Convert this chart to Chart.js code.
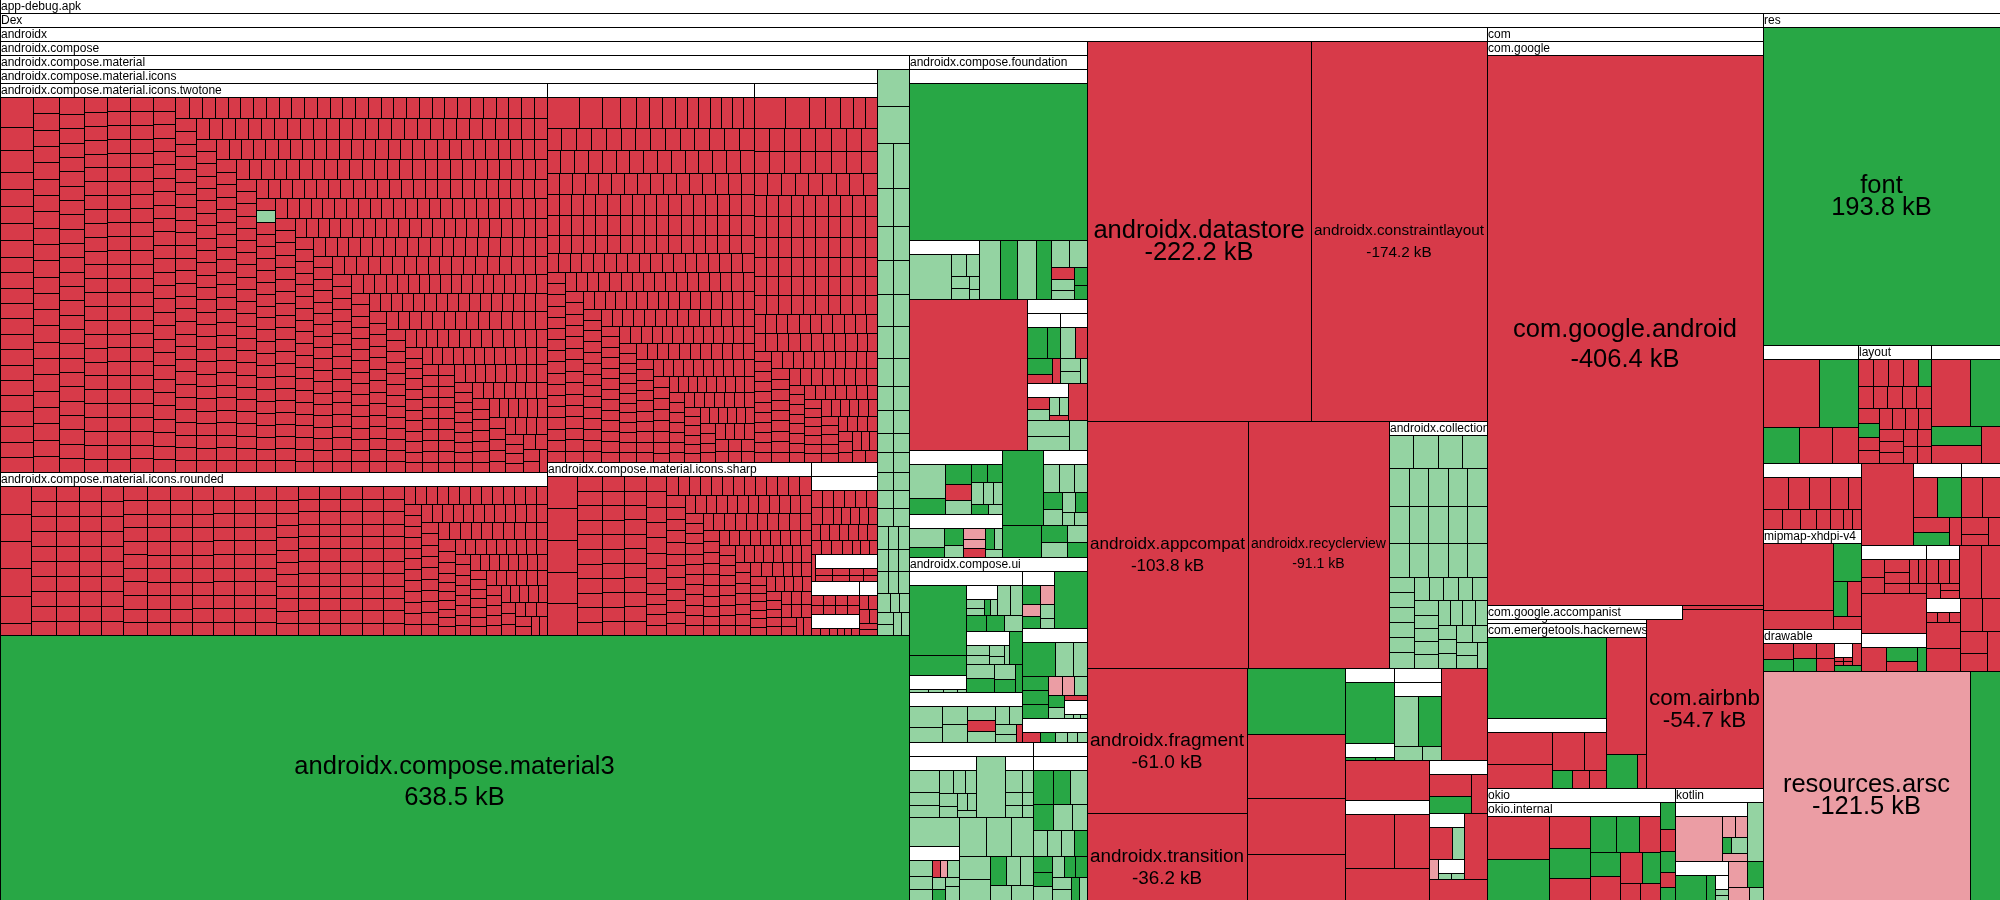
<!DOCTYPE html>
<html>
<head>
<meta charset="utf-8">
<title>app-debug.apk size diff treemap</title>
<style>
  html, body { margin: 0; padding: 0; background: #ffffff; overflow: hidden; }
  #wrap { width: 2000px; height: 900px; }
</style>
<script src="https://cdn.jsdelivr.net/npm/chart.js"></script>
</head>
<body>
<div id="wrap"><canvas id="chart" width="2000" height="900"></canvas></div>
<script>
// ====================== DATA ======================
// Sizes in kB. Status letter: r = removed (red), a = added (green),
// i = grown (light green), d = shrunk (pink), w = unchanged (white).
// "N*xV" means N consecutive entries of status x and size V.

// Labelled packages (signed kB as printed on the chart)
const labelNames  = ['androidx.compose.material3', 'androidx.datastore', 'androidx.constraintlayout',
                     'androidx.appcompat', 'androidx.recyclerview', 'androidx.fragment', 'androidx.transition',
                     'com.google.android', 'com.airbnb', 'font', 'resources.arsc'];
const labelValues = [638.5, -222.2, -174.2, -103.8, -91.1, -61.0, -36.2, -406.4, -54.7, 193.8, -121.5];
const labelStatus = ['a', 'r', 'r', 'r', 'r', 'r', 'r', 'r', 'r', 'a', 'd'];

// androidx.compose.material.icons.*
const twotoneIcons  = ['r2.8','r2.2','r2.05','5*r1.6','14*r1.45','24*r1.23','26*r1.03','27*r0.95','27*r0.92',
                       '27*r0.905','28*r0.87','28*r0.79','26*r0.77','28*r0.76','100*r0.72',
                       '54*r0.68','i0.68','65*r0.68','120*r0.63','100*r0.58','100*r0.514'];
const roundedIcons  = ['5*r2.6','10*r1.13','10*r1.05','10*r1.02','10*r1.0','10*r0.97','10*r0.95','10*r0.92',
                       '10*r0.89','40*r0.87','70*r0.8','60*r0.58','65*r0.46'];
const outlinedIcons = ['r2.87','r2.15','r1.61','r1.43','3*r1.17','r1.08','6*r0.99','14*r0.96','15*r0.9','16*r0.8',
                       '17*r0.72','17*r0.7','17*r0.66','17*r0.62','50*r0.6','60*r0.55','60*r0.5','50*r0.43'];
const filledIcons   = ['r2.78','r2.15','r1.43','r1.35','r1.17','2*r1.08','8*r1.03','8*r0.99','9*r0.84','10*r0.76',
                       '10*r0.74','10*r0.72','10*r0.7','10*r0.68','10*r0.66','10*r0.62','10*r0.6','40*r0.52','45*r0.44'];
const sharpIcons    = ['5*r2.95','10*r1.08','10*r0.98','20*r0.96','30*r0.65','40*r0.55','40*r0.48','30*r0.4'];
const extraIcons    = ['8*r0.62','16*r0.5','4*r0.4'];
const extraIconsA   = ['4*r0.75','4*r0.6'];
const extraIconsB   = ['4*r0.7','4*r0.65'];
const extraIconsC   = ['2*r0.65','4*r0.5'];
const extraIconsD   = ['3*r0.6','3*r0.5'];
const materialCells = ['2*i3.25','2*i1.95','2*i1.65','2*i1.5','2*i1.5','2*i1.4','2*i1.4','2*i1.2','2*i1.05',
                       '2*i1.0','4*i0.85','6*i0.8','10*i0.65','6*i0.5'];

// androidx.compose.foundation
const foundBandA  = ['i7.1','i1.2','i1.1','2*i0.76','i0.5','i0.42'];
const foundBandB  = ['i1.4','i1.35','r0.8','i0.7','i0.6','a0.6','a0.5'];
const foundSideA  = ['a2.5','a1.6','a1.5','r0.9','r0.8'];
const foundSideB  = ['i1.8','r1.4','i1.0','i0.9','i0.6'];
const foundSideC  = ['r1.4','i1.2','i0.9','i0.8','r0.5'];
const foundSide   = ['r2.2','i2.1','i1.9','i1.6'];
const foundTopMix = ['i3.5','a2.9','i3.1','a2.6'];
const foundBig    = ['a78.8','r50.3'];
const foundLowA   = ['i4.3','a2.0','a1.8','r1.45','i1.3','a0.95','a0.95','i0.9','i0.8','i0.7','a0.6','i0.5'];
const foundLowB   = ['i2.6','a1.5','a1.3','i1.0','d1.0','d0.8','r0.8','a0.7','i0.7','i0.6'];
const foundLowC   = ['i1.5','i1.3','i1.2','a1.1','i1.0','i0.9','a0.8','i0.5','i0.5'];
const foundLoose  = ['a8.3','a3.4','a1.3','i1.1','i0.9','a0.8'];

// androidx.compose.ui
const uiA1 = ['i1.0','i0.8','i0.7','i0.5'];
const uiA2 = ['i0.9','i0.7','a0.6','i0.6'];
const uiA3 = ['i1.3','i1.1','i0.9','i0.7','i0.5'];
const uiA  = ['a12.5','a3.5','i1.2','i1.1','a1.0','a0.9','i0.9','a1.3','i1.2','a1.2','i1.0','a0.8','a0.6'];
const uiB  = ['i2.6','i1.9','i1.8','i1.7','i1.5','r1.2','i1.2','i1.0','i0.9','i0.8','i0.6','r0.4'];
const uiC1 = ['i2.6','i1.5','i1.4','i1.3','i1.1','i1.0','i0.9','i0.8','i0.7','i0.6','i0.5'];
const uiC2 = ['i1.4','i1.0','i0.9','i0.8','i0.6','i0.5'];
const uiC3 = ['i1.5','i1.2','i1.0','r0.6','d0.5','i0.8','i0.7','a0.6','i0.5','i0.8'];
const uiC  = ['i3.2','i3.0','i2.6','i2.2','i1.9','a1.5','i1.2','i1.2','i1.0','i1.0'];
const uiD  = ['a1.3','d1.0','d0.8','a0.8','i0.7','i0.5'];
const uiE  = ['a3.7','i2.0','i1.5','a1.2','a1.2','a1.2','d0.9','d0.8','i0.8','a0.6','i0.6','r0.4'];
const uiE1 = ['i0.5','i0.4','i0.4'];
const uiF  = ['r1.2','a1.0','i0.8','i0.7','i0.6'];
const uiG  = ['a2.2','a2.0','i1.9','a1.7','i1.6','i1.3','i1.2','i1.2','i1.1','a1.1','a1.0','a0.9','i0.9',
              'i0.8','a0.8','a0.8','i0.8','i0.7','a0.6','i0.6'];

// other androidx packages
const collectionCells = ['4*i2.28','5*i2.05','5*i2.0','5*i1.83','6*i1.06','6*i0.95','8*i0.85','8*i0.72'];
const androidxSmall   = ['a17.1','r16.4','r14.3','r11.8'];
const androidxG1      = ['a9.3'];
const androidxG1a     = ['a1.6','a1.0'];
const androidxG2      = ['i4.4','a4.3','i1.5','i1.0'];
const androidxG3      = ['r8.7','r6.3'];
const androidxG4      = ['r3.2','a2.6','r2.2'];
const androidxG5      = ['r2.4','i1.2','d0.6'];
const androidxG5a     = ['i0.9','i0.9'];

// com.*
const accompanistCells = ['r1.4','r1.0'];
const hackernewsCells  = ['a29.8','r14.5','a3.2','r1.0'];
const hackernewsUi     = ['r8.1','r6.2','r4.65','r3.3','a1.4','r1.25','r1.2'];

// okio / kotlin
const okioInternal = ['r8.95','a8.74','r4.48','a4.34','r3.08','a3.13','a2.86','r2.55','a2.46','r2.43','r2.33',
                      'a1.9','r1.2','r1.16'];
const okioCells    = ['a1.19','r0.97','a0.97','r0.66','a0.57'];
const kotlinA      = ['d8.1','d1.0','d0.9','a0.5','i1.0','d0.8'];
const kotlinB      = ['a3.5','a1.0'];
const kotlinB1     = ['i0.8','i0.7'];
const kotlinCells  = ['i2.75','d1.5','a1.2','d0.8','i0.5'];

// res
const resA        = ['r11.0','a7.6','a3.8','r3.5','r2.7'];
const resLayout   = ['4*r1.15','a1.0','6*r0.95','a0.85','8*r0.8','4*r0.7','r0.65'];
const resC        = ['r7.5','a5.8','a2.9','r2.5','r2.05'];
const resXCells   = ['r2.2','r1.9','r1.8','r1.6','r1.1','r1.1','r1.0','r0.9','r0.8','r0.7','r0.5','r0.5'];
const resMipmap   = ['r15.0','r4.35','a3.3','a1.53','r1.49','r1.17'];
const resDrawable = ['r2.0','a1.5','r1.4','a1.2','r1.1','r1.0','r0.8','a0.7'];
const resDrawSub  = ['r0.4','r0.4','r0.4','r0.4'];
const resJ        = ['r3.0','a3.0','r1.7','a1.5','r1.0'];
const resK        = ['r2.6','r2.3','r1.4','r1.0','r1.0'];
const resL        = ['r1.5','r1.3','r1.2','r1.0','r0.9','r0.8','r0.7','r0.6'];
const resL2       = ['r2.5','a1.8','r1.2','a0.9'];
const resM        = ['r1.0','r0.9','r0.8','r0.7','r0.5','r0.5'];
const resN        = ['r0.7','r0.7','r0.7'];
const resLoose    = ['r2.9','r2.6','r2.2','r2.0','r1.9','r1.6','r1.5','r1.3','r1.3'];
const resTail     = ['a17.9'];

// ====================== TREE ======================
const COLORS = { r: '#d73a49', a: '#28a745', i: '#94d3a2', d: '#eb9da4', w: '#ffffff' };
const HEADER = 14;
const FONT = '"Liberation Sans", Arial, Helvetica, sans-serif';
const LABEL_MAX = 25.5;

function expand(list) {
  const out = [];
  for (const t of list) {
    if (typeof t === 'string') {
      const m = t.match(/^(?:(\d+)\*)?([raidw])(\d*\.?\d+)$/);
      const cnt = m[1] ? parseInt(m[1], 10) : 1;
      for (let k = 0; k < cnt; k++) out.push({ v: parseFloat(m[3]), s: m[2] });
    } else out.push(t);
  }
  return out;
}
function G(name, kids) { return { name: name, kids: expand(kids) }; }   // name null => no header
function L(name) {
  const i = labelNames.indexOf(name);
  return { name: name, kb: labelValues[i], v: Math.abs(labelValues[i]), s: labelStatus[i] };
}

const ICONS = G('androidx.compose.material.icons', [
  G('androidx.compose.material.icons.twotone', twotoneIcons),
  G('androidx.compose.material.icons.rounded', roundedIcons),
  G('', outlinedIcons),
  G('', filledIcons),
  G('androidx.compose.material.icons.sharp', sharpIcons),
  G('', [G('', [...extraIcons, G('', extraIconsA), G('', extraIconsB), G('', extraIconsC), G('', extraIconsD)])])
]);
const MATERIAL = G('androidx.compose.material', [ICONS, ...materialCells]);
const FOUNDATION = G('androidx.compose.foundation', [
  G('', [foundBig[0], G('', foundBandA), ...foundTopMix, G(null, foundBandB), foundBig[1],
         G('', [G('', foundSideA), G('', foundSideB), G('', foundSideC), ...foundSide])]),
  G('', foundLowA), G('', foundLowB), foundLoose[0], G('', foundLowC), ...foundLoose.slice(1)
]);
const UI = G('androidx.compose.ui', [
  G(null, [G('', [uiA[0], uiA[1], G('', uiA1), G('', uiA2), ...uiA.slice(2, 7), G('', uiA3), ...uiA.slice(7)]),
           G('', uiB)]),
  G(null, [G('', uiD), 'a5.0', G('', [...uiE, G('', uiE1)]), G('', uiF)]),
  G('', [G('', uiC1), 'i5.4', G('', uiC2), 'i4.4', G('', uiC3), ...uiC]),
  G('', [G('', uiG)])
]);
const COMPOSE = G('androidx.compose', [MATERIAL, L('androidx.compose.material3'), FOUNDATION, UI]);
const ANDROIDX = G('androidx', [
  COMPOSE, L('androidx.datastore'), L('androidx.constraintlayout'), L('androidx.appcompat'),
  L('androidx.recyclerview'), G('androidx.collection', collectionCells), L('androidx.fragment'),
  L('androidx.transition'), ...androidxSmall,
  G('', [...androidxG1, G('', androidxG1a)]), G('', [G('', androidxG2)]), 'r11.2',
  'r8.7', G('', androidxG3), 'r6.9', G('', androidxG4), G('', [...androidxG5, G('', androidxG5a)]), 'r4.0', 'r3.1'
]);
const COM = G('com', [
  G('com.google', [L('com.google.android'), G('com.google.accompanist', accompanistCells), 'r1.0']),
  G('com.emergetools', [G('com.emergetools.hackernews',
      [hackernewsCells[0], G('', hackernewsUi), ...hackernewsCells.slice(1)])]),
  L('com.airbnb')
]);
const OKIO = G('okio', [G('okio.internal', okioInternal), ...okioCells]);
const KOTLIN = G('kotlin', [G('', kotlinA), kotlinCells[0], G('', [...kotlinB, G('', kotlinB1)]), ...kotlinCells.slice(1)]);
const DEX = G('Dex', [ANDROIDX, COM, OKIO, KOTLIN]);
const RES = G('res', [
  L('font'), G('', resA), G('layout', resLayout), G('', resC),
  G('', [...resXCells, G('mipmap-xhdpi-v4', resMipmap), G('drawable', [...resDrawable.slice(0, 6), G('', resDrawSub), ...resDrawable.slice(6)])]),
  G(null, ['r11.1', G('', resJ), G('', resK), G('', resL), 'r6.8', G('', resL2), G('', resM),
           resLoose[0], resLoose[1], G('', resN), ...resLoose.slice(2)]),
  L('resources.arsc'), ...resTail
]);
const ROOT = G('app-debug.apk', [DEX, RES]);

// ====================== LAYOUT (squarified, phi ratio) ======================
function sumValues(n) { if (n.kids) n.v = n.kids.reduce((s, k) => s + sumValues(k), 0); return n.v; }
const PHI = (1 + Math.sqrt(5)) / 2;
function squarify(nodes, x0, y0, x1, y1) {
  let value = nodes.reduce((s, n) => s + n.v, 0);
  let i0 = 0; const n = nodes.length;
  while (i0 < n) {
    const dx = x1 - x0, dy = y1 - y0;
    let sumValue = nodes[i0].v, minValue = sumValue, maxValue = sumValue, i1 = i0 + 1;
    const alpha = Math.max(dy / dx, dx / dy) / (value * PHI);
    let beta = sumValue * sumValue * alpha;
    let minRatio = Math.max(maxValue / beta, beta / minValue);
    for (; i1 < n; ++i1) {
      const nv = nodes[i1].v;
      sumValue += nv;
      if (nv < minValue) minValue = nv;
      if (nv > maxValue) maxValue = nv;
      beta = sumValue * sumValue * alpha;
      const newRatio = Math.max(maxValue / beta, beta / minValue);
      if (newRatio > minRatio) { sumValue -= nv; break; }
      minRatio = newRatio;
    }
    const row = nodes.slice(i0, i1);
    if (dx < dy) {
      const yk = value ? y0 + dy * sumValue / value : y1;
      let x = x0;
      for (const r of row) { const w = dx * r.v / sumValue; r.x0 = x; r.x1 = x + w; r.y0 = y0; r.y1 = yk; x += w; }
      y0 = yk;
    } else {
      const xk = value ? x0 + dx * sumValue / value : x1;
      let y = y0;
      for (const r of row) { const h = dy * r.v / sumValue; r.y0 = y; r.y1 = y + h; r.x0 = x0; r.x1 = xk; y += h; }
      x0 = xk;
    }
    value -= sumValue; i0 = i1;
  }
}
function layout(nd, x0, y0, x1, y1, depth) {
  nd.x0 = x0; nd.y0 = y0; nd.x1 = x1; nd.y1 = y1; nd.depth = depth;
  if (!nd.kids) return;
  const top = nd.name === null ? y0 : y0 + HEADER;
  if (y1 - top < 1) { nd.hidden = true; return; }
  squarify(nd.kids, x0, top, x1, y1);
  for (const k of nd.kids) layout(k, k.x0, k.y0, k.x1, k.y1, depth + 1);
}
sumValues(ROOT);
layout(ROOT, 0, -1, 2000, 900, 0);

// ====================== DRAWING through Chart.js scales ======================
function fmtKB(kb) { return (kb < 0 ? '-' : '') + Math.abs(kb).toFixed(1) + ' kB'; }

function drawLabel(ctx, nd, px0, py0, px1, py1) {
  const w = px1 - px0, h = py1 - py0;
  const val = fmtKB(nd.kb);
  ctx.font = LABEL_MAX + 'px ' + FONT;
  const tw = Math.max(ctx.measureText(nd.name).width, ctx.measureText(val).width);
  const fs = Math.min(LABEL_MAX, LABEL_MAX * (w - 6) / tw);
  if (fs < 9 || h < fs * 2.4) return;
  const gap = w > 250 ? fs * 1.2 : Math.min(22, fs * 1.4);
  const cx = (px0 + px1) / 2, cy = (py0 + py1) / 2;
  ctx.save();
  ctx.beginPath(); ctx.rect(px0, py0, w, h); ctx.clip();
  ctx.fillStyle = '#000000';
  ctx.font = fs.toFixed(2) + 'px ' + FONT;
  ctx.textAlign = 'center'; ctx.textBaseline = 'alphabetic';
  const nameY = cy + 0.27 * fs;
  ctx.fillText(nd.name, cx, nameY);
  ctx.fillText(val, cx, nameY + gap);
  ctx.restore();
}

const treemapCells = {
  id: 'treemapCells',
  afterDatasetsDraw(chart) {
    const ctx = chart.ctx, xs = chart.scales.x, ys = chart.scales.y;
    const all = [];
    (function walk(nd) { all.push(nd); if (nd.kids && !nd.hidden) nd.kids.forEach(walk); })(ROOT);
    all.sort((a, b) => a.depth - b.depth);
    ctx.save();
    ctx.lineWidth = 1;
    ctx.strokeStyle = '#000000';
    for (const nd of all) {
      const px0 = Math.round(xs.getPixelForValue(nd.x0)), px1 = Math.round(xs.getPixelForValue(nd.x1));
      const py0 = Math.round(ys.getPixelForValue(nd.y0)), py1 = Math.round(ys.getPixelForValue(nd.y1));
      if (nd.kids) {
        if (nd.name === null) continue;
        const hb = Math.round(ys.getPixelForValue(nd.y0 + HEADER));
        ctx.fillStyle = '#ffffff';
        ctx.fillRect(px0, py0, px1 - px0, hb - py0);
        ctx.strokeRect(px0 + 0.5, py0 + 0.5, px1 - px0, hb - py0);
        if (nd.name) {
          ctx.save();
          ctx.beginPath(); ctx.rect(px0, py0, px1 - px0, hb - py0); ctx.clip();
          ctx.fillStyle = '#000000';
          ctx.font = '12px ' + FONT;
          ctx.textAlign = 'left'; ctx.textBaseline = 'alphabetic';
          ctx.fillText(nd.name, px0 + 1, py0 + 11);
          ctx.restore();
        }
      } else {
        if (px1 - px0 < 1 || py1 - py0 < 1) continue;
        ctx.fillStyle = COLORS[nd.s];
        ctx.fillRect(px0, py0, px1 - px0, py1 - py0);
        ctx.strokeRect(px0 + 0.5, py0 + 0.5, px1 - px0, py1 - py0);
        if (nd.name) drawLabel(ctx, nd, px0, py0, px1, py1);
      }
    }
    ctx.restore();
  }
};

new Chart(document.getElementById('chart'), {
  type: 'scatter',
  data: { datasets: [{ label: 'app-debug.apk', data: [], pointRadius: 0 }] },
  options: {
    responsive: false,
    animation: false,
    devicePixelRatio: 1,
    events: [],
    layout: { padding: 0 },
    scales: {
      x: { type: 'linear', min: 0, max: 2000, display: false },
      y: { type: 'linear', min: 0, max: 900, reverse: true, display: false }
    },
    plugins: { legend: { display: false }, tooltip: { enabled: false }, title: { display: false } }
  },
  plugins: [treemapCells]
});
</script>
</body>
</html>
